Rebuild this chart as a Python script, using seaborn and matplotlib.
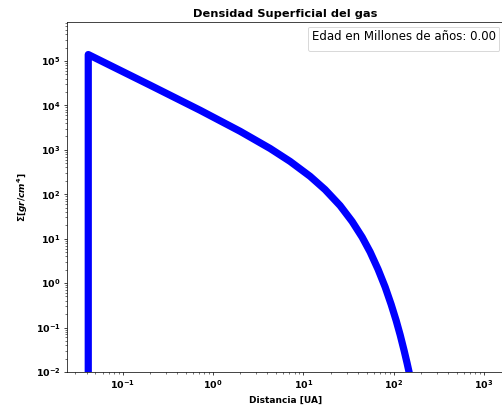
import matplotlib
matplotlib.use("Agg")
import matplotlib.pyplot as plt
import seaborn as sns
import pandas as pd

# Data
distancia_ua = [0.0416, 0.0416, 0.2005, 0.718, 1.991, 4.28, 7.12, 11.86, 17.38,
                25.48, 34.6, 44.7, 54.8, 67.1, 80.3, 93.6, 106.4, 117.8,
                130.4, 140.7, 152.0, 164.0]
sigma = [1e-3, 1.39e5, 2.85e4, 7.76e3, 2.61e3, 1.07e3, 548.0, 253.0, 127.0,
         55.4, 24.4, 10.8, 5.01, 2.035, 0.817, 0.331, 0.143, 0.0681,
         0.0300, 0.0156, 0.00768, 0.0036]

titulo = "Densidad Superficial del gas"
leyenda = "Edad en Millones de años: 0.00"
xlabel = "Distancia [UA]"
ylabel = r"$\Sigma[gr/cm^4]$"

plt.rcParams["font.weight"] = "bold"
plt.rcParams["axes.labelweight"] = "bold"
plt.rcParams["axes.titleweight"] = "bold"

df = pd.DataFrame({"r": distancia_ua, "sigma": sigma})

fig = plt.figure(figsize=(502 / 65, 410 / 65), dpi=65)
ax = fig.add_axes([67 / 502, 38 / 410, (504 - 67) / 502, (372 - 22) / 410])

sns.lineplot(data=df, x="r", y="sigma", ax=ax, sort=False, color="blue",
             linewidth=8, estimator=None)
ax.set_xscale("log")
ax.set_yscale("log")
ax.set_xlim(0.0242, 1660)
ax.set_ylim(1e-2, 7.5e5)
ax.tick_params(labelsize=10.5)
ax.set_title(titulo, fontsize=12.6)
ax.set_xlabel(xlabel, labelpad=5)
ax.set_ylabel(ylabel, labelpad=6)
leg = ax.legend(handles=[], labels=[], title=leyenda, loc="upper right",
                title_fontproperties={"size": 13, "weight": "normal"})

fig.savefig("out.png", dpi=65)
